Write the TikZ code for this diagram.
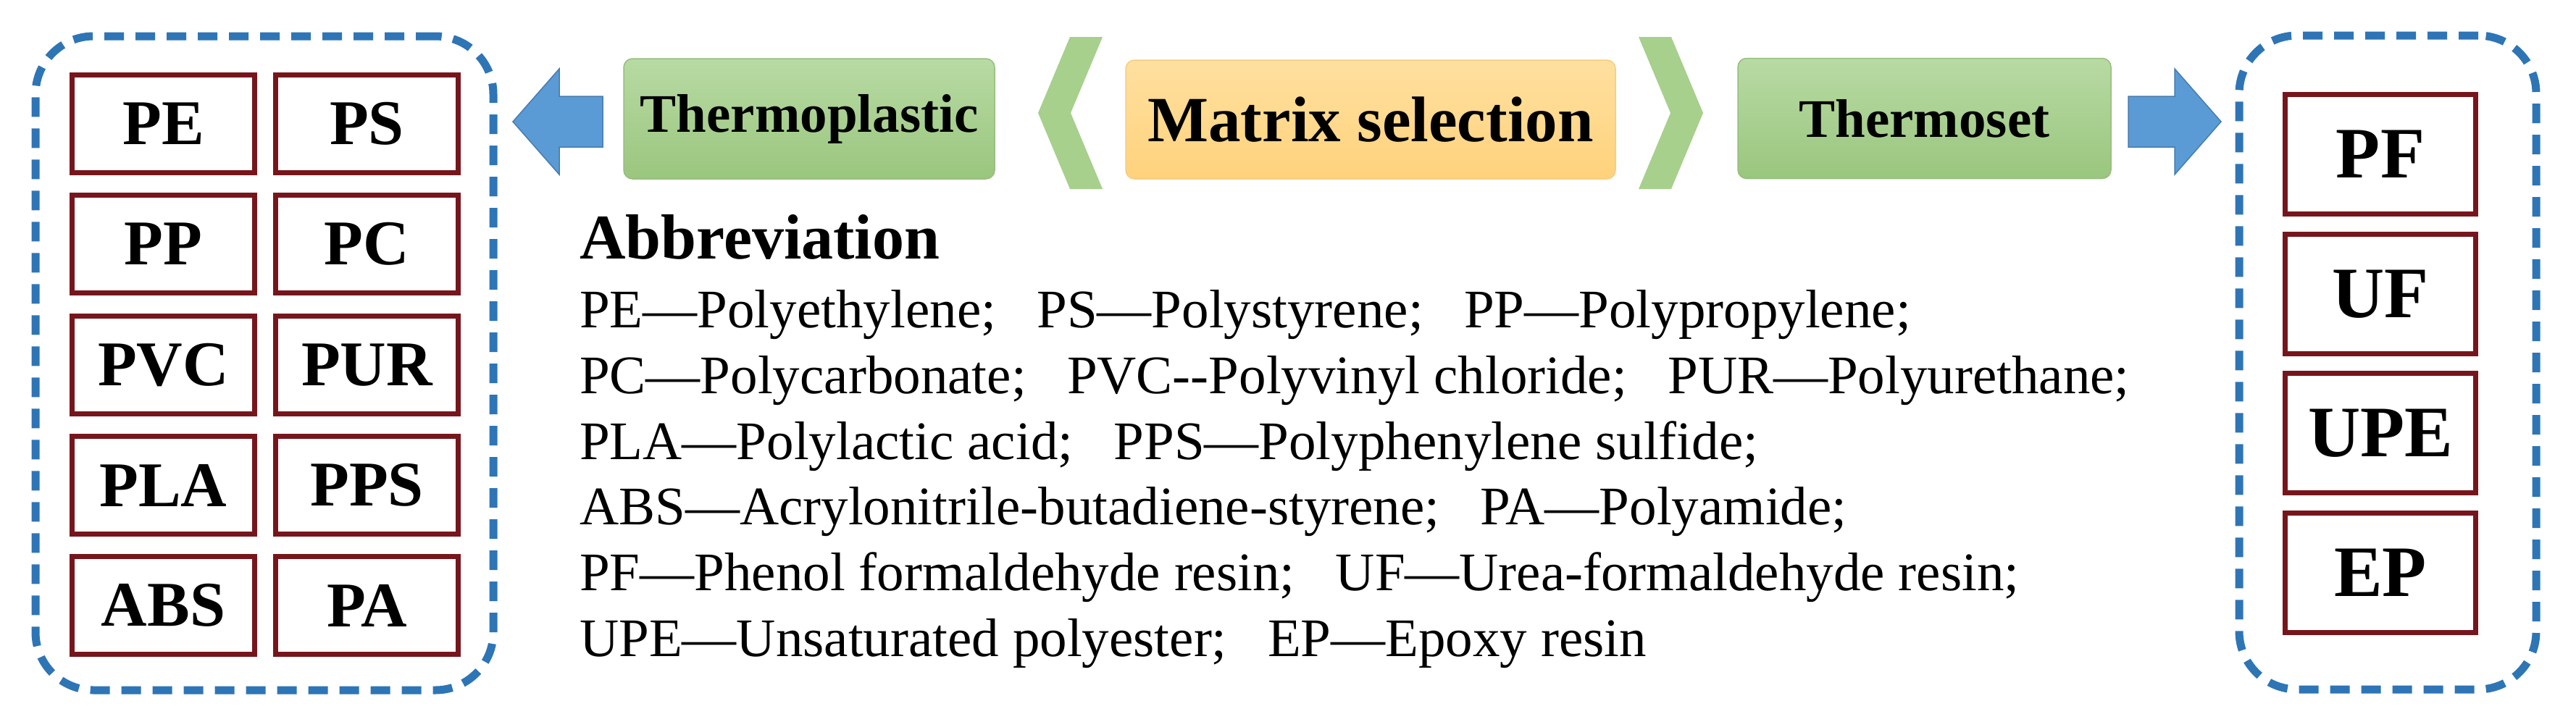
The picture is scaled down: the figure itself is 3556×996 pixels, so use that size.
\documentclass[tikz,border=0pt]{standalone}
\usepackage{fontspec}
\setmainfont{Liberation Serif}
\definecolor{dashblue}{RGB}{46,117,182}
\definecolor{arrblue}{RGB}{91,155,213}
\definecolor{arrline}{RGB}{70,125,175}
\definecolor{boxred}{RGB}{118,22,28}
\definecolor{greentop}{RGB}{184,218,164}
\definecolor{greenbot}{RGB}{154,198,126}
\definecolor{greenline}{RGB}{150,190,125}
\definecolor{chevgreen}{RGB}{166,208,140}
\definecolor{orangetop}{RGB}{255,224,160}
\definecolor{orangebot}{RGB}{255,210,124}
\definecolor{orangeline}{RGB}{245,205,130}
\newcommand{\abgap}{\hspace{0.75em}}
\tikzset{
  pbox/.style={draw=boxred, line width=7pt, fill=white, minimum width=252pt,
    minimum height=135pt, inner sep=0pt, font=\fontsize{88}{100}\selectfont\bfseries},
  tbox/.style={draw=boxred, line width=7pt, fill=white, minimum width=263pt,
    minimum height=165pt, inner sep=0pt, font=\fontsize{100}{110}\selectfont\bfseries},
  container/.style={draw=dashblue, line width=11pt, dash pattern=on 27pt off 16pt,
    rounded corners=80pt, inner sep=0pt},
  greenbox/.style={rounded corners=12pt, top color=greentop, bottom color=greenbot,
    draw=greenline, line width=1.5pt, inner sep=0pt,
    font=\fontsize{75}{85}\selectfont\bfseries},
  orangebox/.style={rounded corners=12pt, top color=orangetop, bottom color=orangebot,
    draw=orangeline, line width=1.5pt, inner sep=0pt,
    font=\fontsize{89}{100}\selectfont\bfseries},
  chevron/.style={fill=chevgreen},
  blockarrow/.style={fill=arrblue, draw=arrline, line width=1.5pt, line join=miter},
  abtitle/.style={anchor=base west, inner sep=0pt, font=\fontsize{88}{100}\selectfont\bfseries},
  abline/.style={anchor=base west, inner sep=0pt, font=\fontsize{75}{90}\selectfont},
}
\begin{document}
\begin{tikzpicture}[x=1pt,y=-1pt]
\useasboundingbox (0,0) rectangle (3556,996);
\fill[white] (0,0) rectangle (3556,996);

% containers
\node[container, minimum width=632pt, minimum height=903pt] (leftbox) at (365,501.5) {};
\node[container, minimum width=410pt, minimum height=903pt] (rightbox) at (3296,500.5) {};

% thermoplastic polymers
\node[pbox] (pe)  at (225.5,171) {PE};
\node[pbox] (ps)  at (506.5,171) {PS};
\node[pbox] (pp)  at (225.5,337) {PP};
\node[pbox] (pc)  at (506.5,337) {PC};
\node[pbox] (pvc) at (225.5,504) {PVC};
\node[pbox] (pur) at (506.5,504) {PUR};
\node[pbox] (pla) at (225.5,670) {PLA};
\node[pbox] (pps) at (506.5,670) {PPS};
\node[pbox] (abs) at (225.5,836) {ABS};
\node[pbox] (pa)  at (506.5,836) {PA};

% thermoset polymers
\node[tbox] (pf)  at (3286,213) {PF};
\node[tbox] (uf)  at (3286,406) {UF};
\node[tbox] (upe) at (3286,598) {UPE};
\node[tbox] (ep)  at (3286,791) {EP};

% header boxes
\node[greenbox, minimum width=512pt, minimum height=166pt] (thermoplastic) at (1117,164) {Thermoplastic};
\node[orangebox, minimum width=676pt, minimum height=164pt] (matrix) at (1892,165) {Matrix selection};
\node[greenbox, minimum width=515pt, minimum height=166pt] (thermoset) at (2656.5,163.5) {Thermoset};

% chevrons
\path[chevron] (1477,51) -- (1522,51) -- (1478,156) -- (1522,261) -- (1477,261) -- (1433,156) -- cycle;
\path[chevron] (2307,51) -- (2262,51) -- (2306,156) -- (2262,261) -- (2307,261) -- (2351,156) -- cycle;

% block arrows
\path[blockarrow] (832,133) -- (772,133) -- (772,95) -- (708,168) -- (772,241) -- (772,203) -- (832,203) -- cycle;
\path[blockarrow] (2938,133) -- (3002,133) -- (3002,95) -- (3066,168) -- (3002,241) -- (3002,203) -- (2938,203) -- cycle;

% abbreviations
\node[abtitle] (abbr) at (800,357) {Abbreviation};
\node[abline] (l1) at (800,452) {PE—Polyethylene;\abgap PS—Polystyrene;\abgap PP—Polypropylene;};
\node[abline] (l2) at (800,543) {PC—Polycarbonate;\abgap PVC-\kern0pt-Polyvinyl chloride;\abgap PUR—Polyurethane;};
\node[abline] (l3) at (800,634) {PLA—Polylactic acid;\abgap PPS—Polyphenylene sulfide;};
\node[abline] (l4) at (800,724) {ABS—Acrylonitrile-butadiene-styrene;\abgap PA—Polyamide;};
\node[abline] (l5) at (800,815) {PF—Phenol formaldehyde resin;\abgap UF—Urea-formaldehyde resin;};
\node[abline] (l6) at (800,906) {UPE—Unsaturated polyester;\abgap EP—Epoxy resin};
\end{tikzpicture}
\end{document}
